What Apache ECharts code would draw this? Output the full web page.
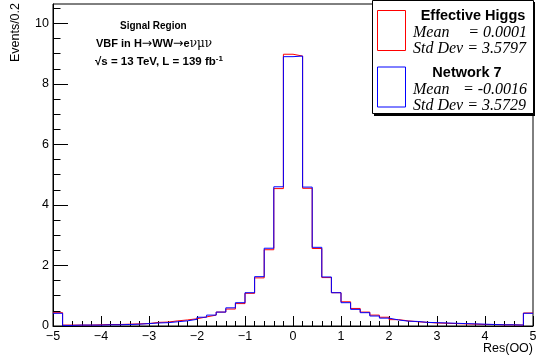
<!DOCTYPE html>
<html>
<head>
<meta charset="utf-8">
<script src="https://cdn.jsdelivr.net/npm/echarts@6/dist/echarts.min.js"></script>
<style>
  html, body { margin: 0; padding: 0; background: #fff; }
  #chart { width: 541px; height: 363px; }
</style>
</head>
<body>
<div id="chart"></div>
<script>
// Histogram binning of Res(OO): 50 bins of width 0.2 from -5 to 5
const xMin = -5;
const xMax = 5;
const binWidth = 0.2;

// Events per bin, Effective Higgs
const effectiveHiggs = [
  0.44, 0.03, 0.03, 0.03, 0.04, 0.05, 0.05, 0.06, 0.07, 0.08,
  0.12, 0.13, 0.17, 0.20, 0.24, 0.30, 0.36, 0.46, 0.56, 0.74,
  1.08, 1.59, 2.52, 4.54, 8.98, 8.92, 4.55, 2.56, 1.60, 1.10,
  0.80, 0.58, 0.46, 0.36, 0.29, 0.21, 0.17, 0.14, 0.12, 0.10,
  0.09, 0.08, 0.07, 0.06, 0.05, 0.05, 0.04, 0.04, 0.03, 0.43
];

// Events per bin, Network 7
const network7 = [
  0.42, 0.02, 0.03, 0.03, 0.03, 0.04, 0.04, 0.05, 0.06, 0.08,
  0.10, 0.11, 0.14, 0.17, 0.22, 0.29, 0.36, 0.46, 0.60, 0.77,
  1.10, 1.63, 2.57, 4.60, 8.90, 8.92, 4.59, 2.60, 1.62, 1.10,
  0.77, 0.55, 0.44, 0.33, 0.26, 0.20, 0.16, 0.15, 0.12, 0.11,
  0.10, 0.09, 0.08, 0.07, 0.06, 0.05, 0.04, 0.04, 0.03, 0.42
];

const yMax = 10.64;
const yMajorTicks = [0, 2, 4, 6, 8, 10];
const yMinorTicks = [0.5, 1, 1.5, 2.5, 3, 3.5, 4.5, 5, 5.5, 6.5, 7, 7.5, 8.5, 9, 9.5, 10.5];

const legendStats = [
  { name: 'Effective Higgs', mean: '0.0001', std: '3.5797', color: '#ff0000' },
  { name: 'Network 7', mean: '-0.0016', std: '3.5729', color: '#0000ff' }
];

// Turn bin contents into step-line points at the bin low edges
function stepPoints(values) {
  const pts = values.map((v, i) => [xMin + i * binWidth, v]);
  pts.push([xMax, values[values.length - 1]]);
  return pts;
}

const sans = 'Liberation Sans, Arial, Helvetica, sans-serif';
const serif = 'Liberation Serif, Times New Roman, serif';

const chart = echarts.init(document.getElementById('chart'), null, { renderer: 'canvas' });

const legendGraphics = [
  // stats box shadow and frame
  { type: 'rect', shape: { x: 374, y: 2, width: 161, height: 114 }, style: { fill: '#000' }, z: 100 },
  { type: 'rect', shape: { x: 372.5, y: 0.5, width: 161, height: 113 }, style: { fill: '#fff', stroke: '#000', lineWidth: 1 }, z: 101 }
];
legendStats.forEach((s, k) => {
  const y0 = k * 56.5;
  legendGraphics.push(
    { type: 'rect', shape: { x: 377.5, y: 10.5 + y0, width: 28, height: 40 },
      style: { fill: '#fff', stroke: s.color, lineWidth: 1 }, z: 102 },
    { type: 'text', x: k === 0 ? 473 : 467, y: 16 + y0,
      style: { text: s.name, fill: '#000', font: 'bold 14.5px ' + sans, textAlign: 'center', textVerticalAlign: 'middle' }, z: 102 },
    { type: 'text', x: 413, y: 33 + y0,
      style: { text: 'Mean', fill: '#000', font: 'italic 16px ' + serif, textAlign: 'left', textVerticalAlign: 'middle' }, z: 102 },
    { type: 'text', x: 527, y: 33 + y0,
      style: { text: '= ' + s.mean, fill: '#000', font: 'italic 16px ' + serif, textAlign: 'right', textVerticalAlign: 'middle' }, z: 102 },
    { type: 'text', x: 413, y: 49 + y0,
      style: { text: 'Std Dev = ' + s.std, fill: '#000', font: 'italic 16px ' + serif, textAlign: 'left', textVerticalAlign: 'middle' }, z: 102 }
  );
});

const labelGraphics = [
  { type: 'text', x: 16, y: 3, rotation: Math.PI / 2,
    style: { text: 'Events/0.2', fill: '#000', font: '12.5px ' + sans, textAlign: 'right', textVerticalAlign: 'middle' } },
  { type: 'text', x: 533, y: 349,
    style: { text: 'Res(OO)', fill: '#000', font: '12.5px ' + sans, textAlign: 'right', textVerticalAlign: 'middle' } },
  { type: 'text', x: 120, y: 26,
    style: { text: 'Signal Region', fill: '#000', font: 'bold 10px ' + sans, textAlign: 'left', textVerticalAlign: 'middle' } },
  { type: 'text', x: 96, y: 44,
    style: {
      text: '{b|VBF in H}{a|→}{b|WW}{a|→}{b|e}{g|νμν}',
      textAlign: 'left', textVerticalAlign: 'middle',
      rich: {
        b: { fontFamily: sans, fontWeight: 'bold', fontSize: 11, fill: '#000' },
        a: { fontFamily: 'DejaVu Sans', fontSize: 12.5, fill: '#000' },
        g: { fontFamily: 'DejaVu Serif', fontSize: 12, fill: '#000' }
      }
    } },
  { type: 'text', x: 95, y: 62,
    style: {
      text: '{b|√s = 13 TeV, L = 139 fb}{s|-1}',
      textAlign: 'left', textVerticalAlign: 'middle',
      rich: {
        b: { fontFamily: sans, fontWeight: 'bold', fontSize: 11.5, fill: '#000' },
        s: { fontFamily: sans, fontWeight: 'bold', fontSize: 8, fill: '#000', padding: [0, 0, 6, 0] }
      }
    } }
];

const tickLine = { color: '#000', width: 1 };
const minusFmt = v => (v < 0 ? '\u2212' + Math.abs(v) : String(v));

chart.setOption({
  animation: false,
  backgroundColor: '#fff',
  grid: { left: 53, right: 8, top: 4, bottom: 37, show: true, borderColor: '#000', borderWidth: 1, backgroundColor: 'transparent' },
  xAxis: {
    type: 'value', min: xMin, max: xMax, interval: 1,
    axisLine: { show: true, onZero: false, lineStyle: tickLine },
    axisTick: { show: true, inside: true, length: 10, lineStyle: tickLine },
    minorTick: { show: true, splitNumber: 5, length: 5, lineStyle: tickLine },
    splitLine: { show: false },
    axisLabel: { color: '#000', fontFamily: sans, fontSize: 12.5, margin: 4, formatter: minusFmt,
                 showMinLabel: true, showMaxLabel: true }
  },
  yAxis: [
    {
      type: 'value', min: 0, max: yMax, position: 'left',
      axisLine: { show: true, onZero: false, lineStyle: tickLine },
      axisTick: { show: true, inside: true, length: 15, lineStyle: tickLine, customValues: yMajorTicks },
      axisLabel: { color: '#000', fontFamily: sans, fontSize: 12.5, margin: 4, customValues: yMajorTicks },
      splitLine: { show: false }
    },
    {
      type: 'value', min: 0, max: yMax, position: 'left', offset: 0,
      axisLine: { show: false, onZero: false },
      axisTick: { show: true, inside: true, length: 7.5, lineStyle: tickLine, customValues: yMinorTicks },
      axisLabel: { show: false },
      splitLine: { show: false }
    }
  ],
  series: [
    { name: 'Effective Higgs', type: 'line', step: 'end', data: stepPoints(effectiveHiggs),
      symbol: 'none', yAxisIndex: 0, lineStyle: { color: '#ff0000', width: 1 }, z: 3 },
    { name: 'Network 7', type: 'line', step: 'end', data: stepPoints(network7),
      symbol: 'none', yAxisIndex: 0, lineStyle: { color: '#0000ff', width: 1 }, z: 4 }
  ],
  graphic: labelGraphics.concat(legendGraphics)
});
</script>
</body>
</html>
